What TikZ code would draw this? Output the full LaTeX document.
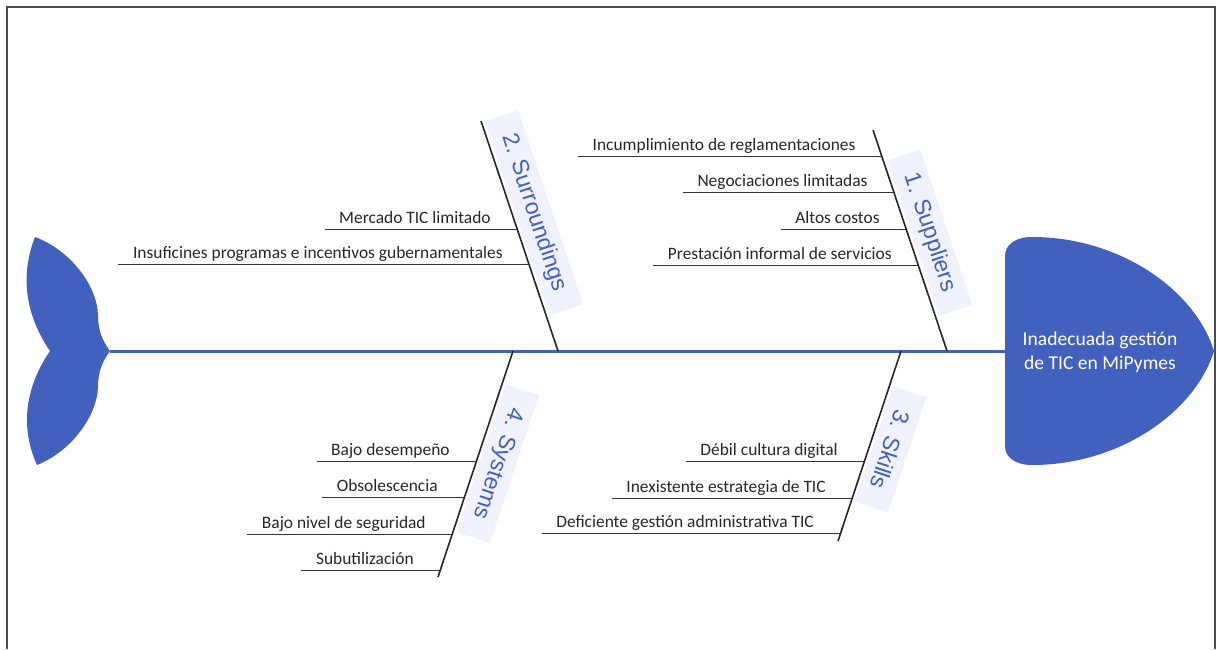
\documentclass[tikz,border=0pt]{standalone}
\usepackage{fontspec}
\setmainfont{Carlito}
\newfontfamily\bonefont{Liberation Sans}
\usepackage{tikz}
\usetikzlibrary{calc}
\definecolor{fishblue}{RGB}{66,96,189}
\definecolor{tagfill}{RGB}{241,242,255}

\begin{document}
\begin{tikzpicture}[x=0.5pt,y=-0.5pt,semithick,
  bone/.style={draw=black!85,line width=0.8pt},
  tag/.style={fill=tagfill,text=fishblue,font=\bonefont\fontsize{11.5}{12}\selectfont,
    minimum height=17.5pt,inner xsep=10pt,inner ysep=0pt,sloped,allow upside down,above=1.5pt},
  cause/.style={anchor=base east,xshift=-6pt,yshift=3pt,inner xsep=7pt,
    font=\fontsize{8.7}{10}\selectfont,text=black!85},
  twig/.style={draw=black!80,line width=0.5pt}]
\useasboundingbox (0,0) rectangle (1219,649);
\draw[gray!60!black,line width=0.7pt] (7,649) -- (7,7) -- (1215,7) -- (1215,649);

% tail and head
\fill[fishblue] (110,351) .. controls (102,340) and (98,330) .. (98,315)
  .. controls (97,285) and (70,250) .. (35,237) .. controls (22,270) and (22,310) .. (50,351)
  .. controls (22,392) and (22,432) .. (37,465) .. controls (70,452) and (97,417) .. (98,387)
  .. controls (98,372) and (102,362) .. (110,351) -- cycle;
\fill[fishblue] (1005,351) -- (1005,256) .. controls (1005,245) and (1015,237) .. (1032,237)
  .. controls (1120,237) and (1195,290) .. (1214,351)
  .. controls (1195,412) and (1120,465) .. (1032,465)
  .. controls (1015,465) and (1005,457) .. (1005,446) -- cycle;
\node[font=\fontsize{9.8}{12}\selectfont,text=white,align=center] (effect) at (1100,352)
  {Inadecuada gestión\\de TIC en MiPymes};

\coordinate (tail) at (110,351);
\coordinate (head) at (1005,351);
\draw[fishblue,line width=1.5pt] (tail) -- (head);

% bones
\coordinate (supT) at (873,130);  \coordinate (supB) at (947,351);
\coordinate (surT) at (481,121);  \coordinate (surB) at (558,351);
\coordinate (sysT) at (513,351);  \coordinate (sysB) at (438,577);
\coordinate (skiT) at (901,351);  \coordinate (skiB) at (838,541);

\path (supT) -- (supB) node[tag,pos=.495] (tsup) {1. Suppliers};
\path (surT) -- (surB) node[tag,pos=.428] (tsur) {2. Surroundings};
\path (skiT) -- (skiB) node[tag,pos=.484] (tski) {3. Skills};
\path (sysT) -- (sysB) node[tag,pos=.469] (tsys) {4. Systems};

\draw[bone] (supT) -- (supB);
\draw[bone] (surT) -- (surB);
\draw[bone] (sysT) -- (sysB);
\draw[bone] (skiT) -- (skiB);

% causes
\foreach \p/\t [count=\i] in {.122/Incumplimiento de reglamentaciones,.285/Negociaciones limitadas,
    .448/Altos costos,.611/Prestación informal de servicios}{
  \path (supT) -- (supB) coordinate[pos=\p] (sup\i);
  \node[cause] (csup\i) at (sup\i) {\t};
  \draw[twig] (sup\i -| csup\i.west) -- (sup\i);
}
\foreach \p/\t [count=\i] in {.470/Mercado TIC limitado,.626/Insuficines programas e incentivos gubernamentales}{
  \path (surT) -- (surB) coordinate[pos=\p] (sur\i);
  \node[cause] (csur\i) at (sur\i) {\t};
  \draw[twig] (sur\i -| csur\i.west) -- (sur\i);
}
\foreach \p/\t [count=\i] in {.491/Bajo desempeño,.650/Obsolescencia,.810/Bajo nivel de seguridad,.969/Subutilización}{
  \path (sysT) -- (sysB) coordinate[pos=\p] (sys\i);
  \node[cause] (csys\i) at (sys\i) {\t};
  \draw[twig] (sys\i -| csys\i.west) -- (sys\i);
}
\foreach \p/\t [count=\i] in {.584/Débil cultura digital,.774/Inexistente estrategia de TIC,.963/Deficiente gestión administrativa TIC}{
  \path (skiT) -- (skiB) coordinate[pos=\p] (ski\i);
  \node[cause] (cski\i) at (ski\i) {\t};
  \draw[twig] (ski\i -| cski\i.west) -- (ski\i);
}
\end{tikzpicture}
\end{document}
